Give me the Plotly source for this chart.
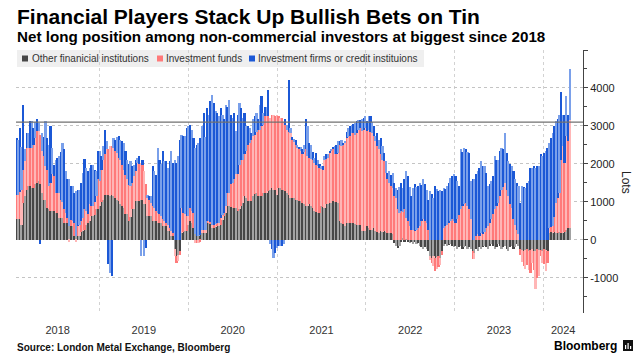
import pandas as pd
import plotly.graph_objects as go

# ---------------- data (lots, weekly, from 2018-01-26) ----------------
series_names = ["Other finanicial institutions", "Investment funds",
                "Investment firms or credit instituions"]
start_date = "2018-01-26"

gray_2018 = [550,550,550,400,970,1150,1300,1410,1410,1370, 1370,1460,1500,1540,1460,1240,1060,1060,840,800,
             750,750,750,710,710,580,580,580,450,450, 450,360,360,360,100,100,100,100,200,230,
             270,400,450,500,620,620,650,800,800]
gray_2019 = [900,1000,1060,1190,1190,1190,1150,1190,1150,1100, 1060,1020,930,880,840,670,670,490,600,800,
             800,1020,1020,1020,1060,1060,930,930,620,620, 620,490,490,490,450,450,450,360,360,360,
             230,230,100,100,-250,-430,-400,-300,180,200, 230,230]
gray_2020 = [400,490,450,300,140,100,100,120,180,180, 180,450,450,420,320,320,340,360,360,400,
             530,620,710,890,890,860,840,840,840,750, 820,890,970,1150,1100,1020,1020,1020,1150,1200,
             1240,1150,1150,1150,1240,1240,1240,1280,1320,1370, 1320,1320]
gray_2021 = [1190,1370,1370,1320,1320,1280,1240,1190,1100,1100, 1100,1060,1060,1020,1020,970,930,890,890,930,
             880,840,750,730,710,710,890,860,840,930, 950,970,970,1020,1000,1000,970,490,450,420,
             360,450,450,450,450,450,420,400,380,400, 230,230,230]
gray_2022 = [360,300,270,270,300,230,200,180,230,200, 220,200,180,180,180,150,-80,-170,-210,-170,
             -50,50,-50,30,-50,-80,-50,-100,-50,-120, -80,-170,-200,-250,-200,-250,-300,-430,-470,-430,
             -470,-450,-430,-470,-300,-170,-120,-170,-150,-120, -170,-200]
gray_2023_24 = [-170,-250,-200,-170,-250,-200,-170,-250,-200,-250, -300,-340,-250,-300,-200,-250,-200,-170,-200,-250,
                -170,-120,-170,-250,-200,-120,-170,-250,-200,-170, -250,-300,-200,-170,-250,-200,-120,-170,-250,-280,
                -300,-280,-250,-300,-280,-250,-300,-300,-250,-280, -280,-300,-250,-280,-300,185,200,180,200,190,
                180,200,190,180,200,250,300,315]

pink_2018 = [640,640,700,920,880,920,1120,1010,1010,1050, 1130,1220,1360,1320,1310,1090,1140,890,1010,610,
             750,970,930,530,530,660,480,420,350,250, 130,-50,170,140,350,-50,250,300,300,350,
             530,350,220,430,280,270,350,350,790]
pink_2019 = [640,850,1050,1060,1190,1190,1310,1270,1270,1230, 1230,1140,1170,1100,1010,1030,920,960,810,700,
             880,780,1010,980,970,920,880,530,480,440, 350,410,350,260,260,220,170,180,140,90,
             170,90,130,80,-170,-170,-170,-100,660,510, 440,390]
pink_2020 = [220,350,310,410,-80,-80,-80,-50,90,90, 70,50,50,60,80,80,80,90,90,180,
             120,90,180,350,350,600,660,760,880,970, 1160,1220,1140,1100,1230,1490,1530,1620,1580,1570,
             1610,1750,1750,1840,1790,2010,2010,1970,1890,1930, 1980,1930]
pink_2021 = [2110,1880,1840,1890,1780,1750,1660,1660,1720,1540, 1480,1450,1360,1360,1310,1280,1370,1490,1310,1230,
             1250,1270,1280,1250,1230,1180,980,990,1270,1200, 1210,1320,1360,1360,1250,1270,1320,2020,2010,2080,
             2190,2230,2250,2280,2370,2350,2350,2420,2520,2550, 2630,2670,2720]
pink_2022 = [2500,2600,2580,2530,2430,2370,2260,2200,2020,1910, 1850,1550,1410,1320,1230,1220,1150,1100,800,710,
             750,670,800,550,500,360,270,250,230,270, 300,360,490,540,500,450,270,-100,-150,-250,
             -350,-330,-300,-200,-100,300,360,400,450,500, 550,500]
pink_2023_24 = [450,550,650,800,880,930,970,900,800,540, -200,-180,100,150,100,180,150,200,300,350,
                450,550,670,800,900,970,1150,1320,1400,1500, 1320,1150,950,840,540,400,250,140,-150,-300,
                -400,-500,-420,-500,-600,-350,-500,-1000,-750,-680, -150,-300,-400,-550,-320,115,130,180,400,780,
                920,1040,1910,2280,1830,2480,2300,2850]

blue_2018 = [1490,1450,1700,1130,1710,330,400,400,700,700, 450,420,310,220,-100,490,500,1170,830,1090,
             1490,700,300,860,920,960,1240,1550,1580,1100, 1010,1230,880,910,790,1180,950,920,1000,1180,
             1320,1150,1130,970,1080,1090,850,660,740]
blue_2019 = [790,350,350,650,220,-650,-870,-960,260,310, 410,570,540,620,700,630,520,550,660,440,
             300,300,120,200,-430,120,-430,-210,80,90, 180,1040,970,950,1710,1440,1380,1800,1570,1620,
             1500,1750,2100,1850,2100,2030,2200,2640,1930,2020, 2060,2330]
blue_2020 = [2370,2190,2140,1970,2280,2400,2450,2560,2730,3070, 2470,2970,2800,3170,3420,3200,2980,2890,2800,2890,
             2650,2460,2670,2260,2450,1840,1700,1740,1140,1580, 1620,1360,1090,1090,660,490,400,180,440,480,
             490,270,660,790,310,250,250,700,-120,-250, -470,-340]
blue_2021 = [-210,-170,-170,-170,-100,140,130,1350,130,60, 70,130,80,70,120,130,200,790,790,390,
             380,190,130,310,170,110,80,100,90,120, 90,60,70,70,210,230,310,90,180,50,
             50,150,250,280,200,250,310,300,250,200, 310,300,300]
blue_2022 = [260,350,400,300,270,130,360,260,430,350, 220,320,170,310,290,390,350,270,520,690,
             750,650,800,1230,1180,1040,880,1120,1230,1130, 1110,1140,960,1060,960,850,790,1280,1200,1100,
             1410,1350,1280,1320,1280,1070,990,1010,1050,1130, 1130,1220]
blue_2023_24 = [1230,1000,760,1580,1420,1490,1410,1400,1490,1000, 1600,1590,1620,1660,1800,1890,1790,1740,1460,1060,
                1010,1000,1010,1400,1210,1140,1180,1100,1000,1320, 970,920,1050,1100,1270,1190,1250,1270,970,1410,
                1400,1370,1500,1540,1890,1900,1940,1890,1940,1950, 2250,2200,2290,2350,2420,2250,2350,2460,2390,2150,
                2070,2060,1800,840,1270,1070,700,1330]

reference_level = 3100
year_labels = ["2018", "2019", "2020", "2021", "2022", "2023", "2024"]
y_tick_values = [-1000, 0, 1000, 2000, 3000, 4000, 5000]
y_tick_labels = ["-1000", "0", "1000", "2000", "3000", "4000", ""]

gray = gray_2018 + gray_2019 + gray_2020 + gray_2021 + gray_2022 + gray_2023_24
pink = pink_2018 + pink_2019 + pink_2020 + pink_2021 + pink_2022 + pink_2023_24
blue = blue_2018 + blue_2019 + blue_2020 + blue_2021 + blue_2022 + blue_2023_24
n = min(len(gray), len(pink), len(blue))
dates = pd.date_range(start_date, periods=n, freq="7D")

# ---------------- styling ----------------
# (dark, light) shade pairs: alternating bars reproduce the thin-bar striping of the original
C_GRAY, C_PINK, C_BLUE = ("#474747", "#a2a2a2"), ("#ff7a7a", "#ffb6b6"), ("#1b58d6", "#7aa0ea")
FONT = "Liberation Sans, Arial, sans-serif"
W, H = 643, 357
ML, MR, MT, MB = 16, 60, 50, 44
PW, PH = W - ML - MR, H - MT - MB
x_start, x_end = pd.Timestamp("2018-01-23"), pd.Timestamp("2024-06-12")


def px(xpix):
    return (xpix - ML) / PW


def py(ypix):
    return (H - MB - ypix) / PH


fig = go.Figure()
for name, vals, cols in zip(series_names, [gray, pink, blue], [C_GRAY, C_PINK, C_BLUE]):
    colour_seq = [cols[k % 2] for k in range(n)]
    fig.add_trace(go.Bar(x=dates, y=vals[:n], name=name,
                         marker=dict(color=colour_seq, line=dict(width=0))))

# year label positions: centre of the visible part of each year
year_starts = [pd.Timestamp(f"{y}-01-01") for y in year_labels]
mids = []
for k, ys in enumerate(year_starts):
    a = max(ys, x_start)
    b = min(pd.Timestamp(f"{int(year_labels[k]) + 1}-01-01"), x_end)
    mids.append(a + (b - a) / 2)

fig.update_layout(
    width=W, height=H, margin=dict(l=ML, r=MR, t=MT, b=MB),
    paper_bgcolor="white", plot_bgcolor="rgba(0,0,0,0)",
    barmode="relative", bargap=0.0, showlegend=False,
    font=dict(family=FONT, color="#222"),
    xaxis=dict(range=[x_start, x_end], tickmode="array", tickvals=mids, ticktext=year_labels,
               ticks="", showgrid=False, showline=False, zeroline=False,
               tickfont=dict(size=11, color="#333"), ticklabelstandoff=9,
               minor=dict(tickmode="array", tickvals=year_starts[1:], showgrid=True,
                          gridcolor="#d2d2d2", griddash="dot", gridwidth=1, ticks="")),
    yaxis=dict(side="right", range=[-1930, 5000], tickmode="array",
               tickvals=y_tick_values, ticktext=y_tick_labels,
               ticks="outside", ticklen=4, tickcolor="#444", tickwidth=1,
               showline=True, linecolor="#444", linewidth=1,
               showgrid=True, gridcolor="#c4c4c4", griddash="dot", gridwidth=1,
               zeroline=False, tickfont=dict(size=11, color="#222"),
               minor=dict(tickmode="array", tickvals=[-1500, -500, 500, 1500, 2500, 3500, 4500],
                          ticks="outside", ticklen=3, tickcolor="#444", showgrid=False)),
)

# reference line
fig.add_shape(type="line", xref="paper", yref="y", x0=0, x1=1, y0=reference_level, y1=reference_level,
              line=dict(color="#707070", width=1.2), layer="above")

# custom legend
fig.add_shape(type="rect", xref="paper", yref="paper", x0=px(17), x1=px(424), y0=py(67), y1=py(50),
              fillcolor="#efefef", line=dict(width=0), layer="below")
leg_sq = [22, 157, 249]
leg_tx = [30, 164, 256]
for name, cols, sx, tx in zip(series_names, [C_GRAY, C_PINK, C_BLUE], leg_sq, leg_tx):
    fig.add_shape(type="rect", xref="paper", yref="paper", x0=px(sx), x1=px(sx + 6),
                  y0=py(61.5), y1=py(55.5), fillcolor=cols[0], line=dict(width=0), layer="above")
    fig.add_annotation(text=name, xref="paper", yref="paper", x=px(tx), y=py(58.5),
                       xanchor="left", yanchor="middle", showarrow=False,
                       font=dict(size=10, color="#333", family=FONT))

# titles
fig.add_annotation(text="<b>Financial Players Stack Up Bullish Bets on Tin</b>", xref="paper", yref="paper",
                   x=px(15), y=py(17), xanchor="left", yanchor="middle", showarrow=False,
                   font=dict(size=21, color="#000", family=FONT))
fig.add_annotation(text="<b>Net long position among non-commercial investors at biggest since 2018</b>",
                   xref="paper", yref="paper", x=px(15), y=py(37), xanchor="left", yanchor="middle",
                   showarrow=False, font=dict(size=15.2, color="#000", family=FONT))
fig.add_annotation(text="<b>Source: London Metal Exchange, Bloomberg</b>", xref="paper", yref="paper",
                   x=px(15), y=py(347), xanchor="left", yanchor="middle", showarrow=False,
                   font=dict(size=10, color="#111", family=FONT))
fig.add_annotation(text="<b>Bloomberg</b>", xref="paper", yref="paper",
                   x=px(619), y=py(346), xanchor="right", yanchor="middle", showarrow=False,
                   font=dict(size=12, color="#000", family=FONT))
fig.add_annotation(text="Lots", xref="paper", yref="paper", x=px(626), y=py(182),
                   xanchor="center", yanchor="middle", showarrow=False, textangle=90,
                   font=dict(size=12, color="#222", family=FONT))

# small Bloomberg icon
fig.add_shape(type="rect", xref="paper", yref="paper", x0=px(623), x1=px(633), y0=py(351), y1=py(340),
              fillcolor="#111", line=dict(width=0), layer="above")
for bx, top in [(625, 345), (627.5, 343), (630, 346)]:
    fig.add_shape(type="rect", xref="paper", yref="paper", x0=px(bx), x1=px(bx + 1.2), y0=py(349),
                  y1=py(top), fillcolor="white", line=dict(width=0), layer="above")

fig.write_html("out.html", config={"displayModeBar": False},
               post_script="document.body.style.margin='0';")
